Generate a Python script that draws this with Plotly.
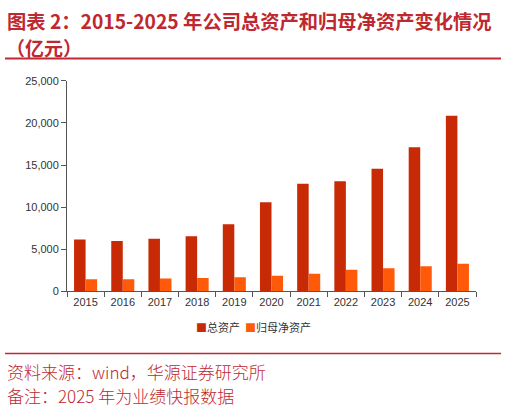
import plotly.graph_objects as go

years = ["2015", "2016", "2017", "2018", "2019", "2020", "2021", "2022", "2023", "2024", "2025"]
total_assets = [6180, 5990, 6250, 6560, 7980, 10600, 12790, 13090, 14550, 17120, 20850]
net_assets = [1450, 1450, 1530, 1610, 1690, 1880, 2110, 2570, 2760, 2990, 3300]
series_names = ["总资产", "归母净资产"]
series_colors = ["#C92A06", "#FF5A0A"]

W, H = 506, 414
x0, x1 = 67, 476
y0, y1 = 77, 294

fig = go.Figure()
fig.add_trace(go.Bar(x=years, y=total_assets, name=series_names[0],
                     marker=dict(color=series_colors[0], line=dict(width=0))))
fig.add_trace(go.Bar(x=years, y=net_assets, name=series_names[1],
                     marker=dict(color=series_colors[1], line=dict(width=0))))

axis_font = dict(family="Liberation Sans, Arial, sans-serif", size=11, color="#333333")
fig.update_layout(
    width=W, height=H,
    margin=dict(l=0, r=0, t=0, b=0),
    paper_bgcolor="white", plot_bgcolor="white",
    barmode="group", bargap=0.38, bargroupgap=0,
    font=dict(family="Noto Sans CJK SC, sans-serif"),
    showlegend=False,
    xaxis=dict(domain=[x0 / W, x1 / W], showline=True, linecolor="#555555", linewidth=1,
               ticks="outside", tickson="boundaries", ticklen=5, tickcolor="#555555",
               tickfont=axis_font, showgrid=False),
    yaxis=dict(domain=[1 - y1 / H, 1 - y0 / H], range=[0, 25000], dtick=5000, tickformat=",",
               showline=True, linecolor="#555555", linewidth=1, ticks="outside", ticklen=5,
               tickcolor="#555555", tickfont=axis_font, showgrid=False, zeroline=False),
)

# legend (compact, as in the reference)
legend_text = "  ".join(
    f'<span style="color:{c}">■</span>{n}' for n, c in zip(series_names, series_colors)
)
fig.add_annotation(x=253 / W, y=1 - 331 / H, xref="paper", yref="paper", xanchor="center", yanchor="middle",
                   text=legend_text, showarrow=False,
                   font=dict(family="Noto Sans CJK SC", size=11, color="#333333"))

title_color = "#BE2830"
fig.add_annotation(x=5 / W, y=1 - 15 / H, xref="paper", yref="paper", xanchor="left", yanchor="middle",
                   text="<b>图表 2：2015-2025 年公司总资产和归母净资产变化情况</b>", showarrow=False,
                   font=dict(family="Noto Sans CJK SC", size=19.3, color=title_color))
fig.add_annotation(x=4 / W, y=1 - 43 / H, xref="paper", yref="paper", xanchor="left", yanchor="middle",
                   text="<b>（亿元）</b>", showarrow=False,
                   font=dict(family="Noto Sans CJK SC", size=19, color=title_color))
fig.add_shape(type="line", xref="paper", yref="paper", x0=5 / W, x1=501 / W, y0=1 - 54 / H, y1=1 - 54 / H,
              line=dict(color=title_color, width=2))
fig.add_shape(type="line", xref="paper", yref="paper", x0=5 / W, x1=501 / W, y0=1 - 358 / H, y1=1 - 358 / H,
              line=dict(color=title_color, width=1.5))
fig.add_annotation(x=5 / W, y=1 - 376 / H, xref="paper", yref="paper", xanchor="left", yanchor="middle",
                   text="资料来源：wind，华源证券研究所", showarrow=False,
                   font=dict(family="Noto Sans CJK SC", size=17, color=title_color, weight=300))
fig.add_annotation(x=5 / W, y=1 - 401 / H, xref="paper", yref="paper", xanchor="left", yanchor="middle",
                   text="备注：2025 年为业绩快报数据", showarrow=False,
                   font=dict(family="Noto Sans CJK SC", size=17, color=title_color, weight=300))

fig.write_html("out.html", config={"displayModeBar": False},
               post_script="document.body.style.margin='0';document.body.style.overflow='hidden';")
